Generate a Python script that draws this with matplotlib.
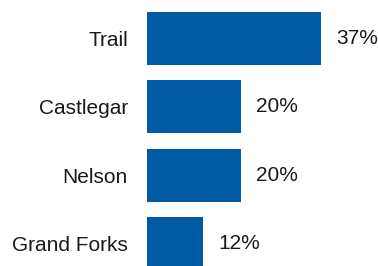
import matplotlib.pyplot as plt

towns = ["Trail", "Castlegar", "Nelson", "Grand Forks"]
shares = [37, 20, 20, 12]

bar_color = "#005BA3"

plt.rcParams['font.family'] = ['Liberation Sans', 'DejaVu Sans']

fig = plt.figure(figsize=(3.78, 2.66), dpi=100)
ax = fig.add_axes([147 / 378, 0, 231 / 378, 1])

ypos = list(range(len(towns)))
ax.barh(ypos, shares, height=0.775, color=bar_color)

ax.set_xlim(0, 231 / 4.7)
ax.set_ylim(-0.564 + 266 / 68.3, -0.564)

ax.set_yticks(ypos)
ax.set_yticklabels(towns, fontsize=15, color="#1a1a1a")
ax.tick_params(axis='y', length=0, pad=13.7)
ax.set_xticks([])
for s in ax.spines.values():
    s.set_visible(False)

for y, v in zip(ypos, shares):
    ax.text(v + 15 / 4.7, y, f"{v}%", va='center', ha='left', fontsize=15, color="#1a1a1a")

fig.savefig("out.png", dpi=100)
